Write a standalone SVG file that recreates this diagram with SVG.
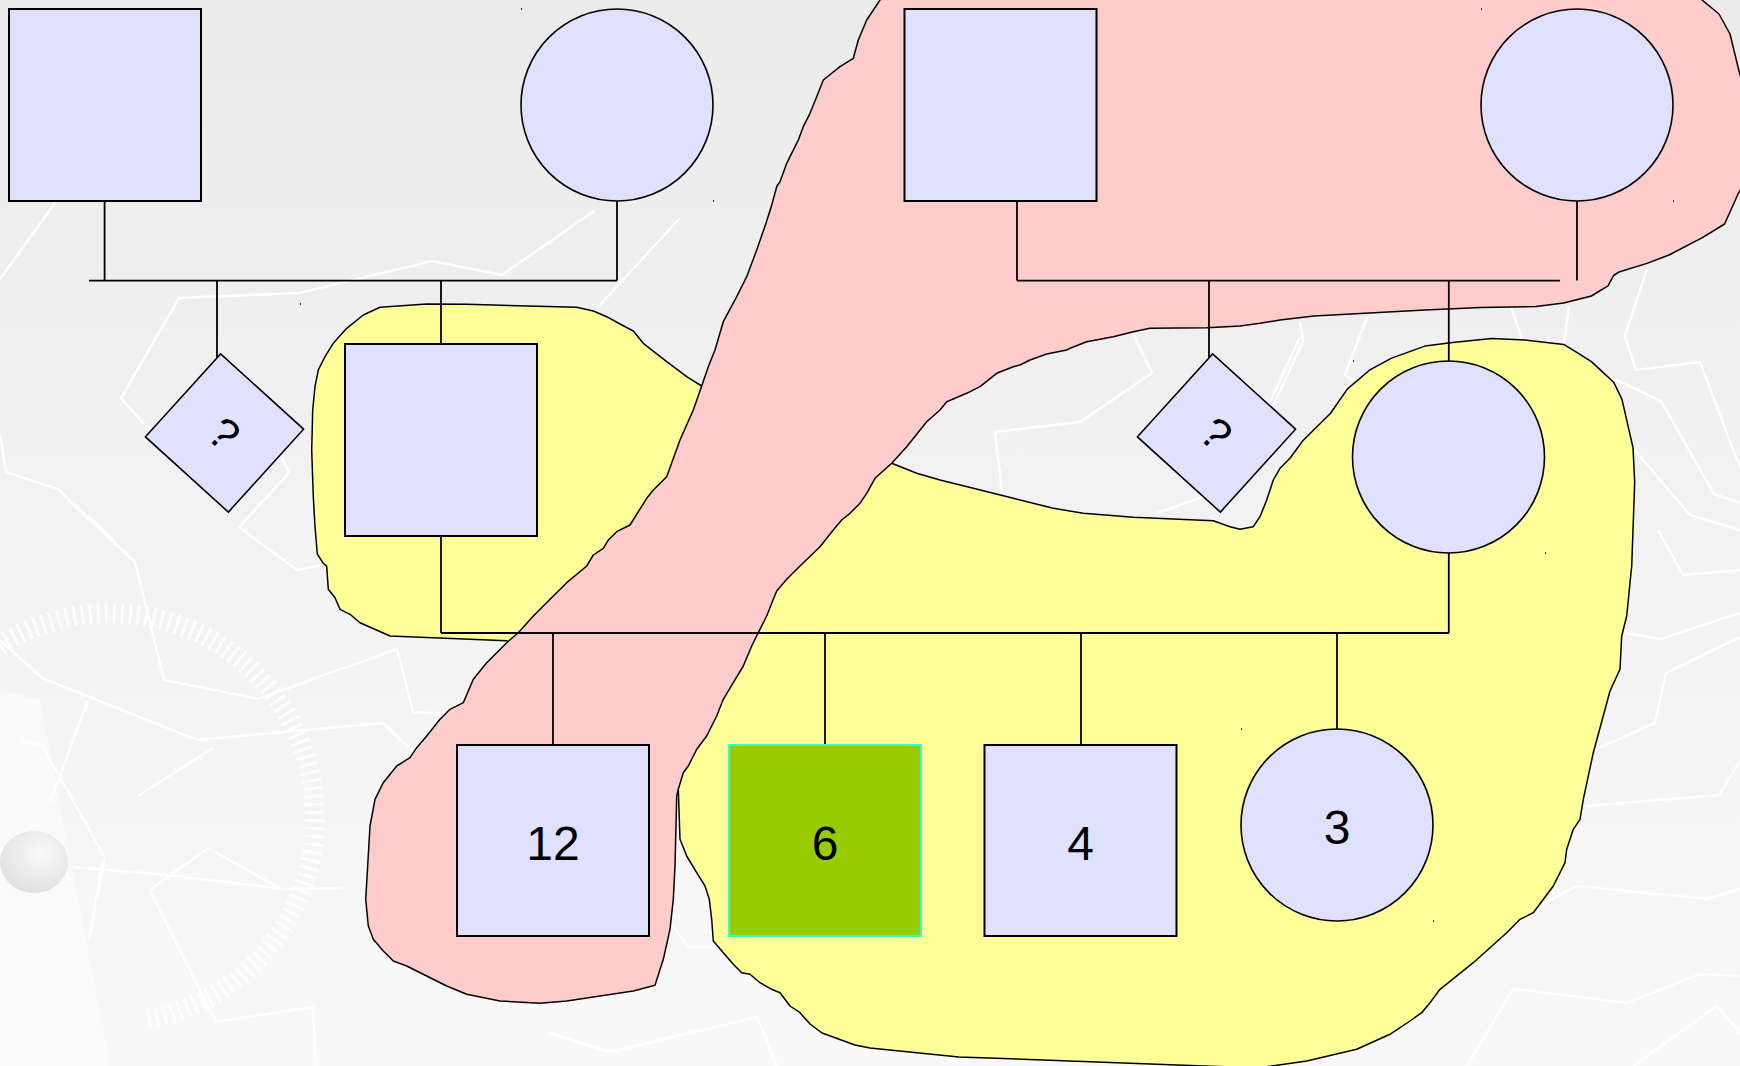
<svg xmlns="http://www.w3.org/2000/svg" width="1740" height="1066" viewBox="0 0 1740 1066">
<defs>
<linearGradient id="bgGrad" x1="0" y1="0" x2="0" y2="1">
<stop offset="0" stop-color="#ebebeb"/>
<stop offset="1" stop-color="#f9f9f9"/>
</linearGradient>
<radialGradient id="pinGrad" cx="0.6" cy="0.35" r="0.7">
<stop offset="0" stop-color="#fafafa"/>
<stop offset="0.5" stop-color="#ececec"/>
<stop offset="1" stop-color="#e0e0e0"/>
</radialGradient>
<style>
.node{fill:#e0e0ff;stroke:#000;stroke-width:2}
.circ{fill:#e0e0ff;stroke:#000;stroke-width:1.6}
.link{stroke:#000;stroke-width:1.8;fill:none}
.blob{stroke:#000;stroke-width:1.5;stroke-linejoin:round}
.lbl{font-family:"Liberation Sans",Arial,sans-serif;font-size:48px;text-anchor:middle;fill:#000}
.q{font-family:"Liberation Sans",Arial,sans-serif;font-size:44px;text-anchor:middle;fill:#000}
.bgl{stroke:#ffffff;stroke-width:2.5;fill:none;stroke-linejoin:miter}
.speck{fill:#333}
</style>
</defs>

<g id="background">
<rect x="0" y="0" width="1740" height="1066" fill="url(#bgGrad)"/>
<polygon points="0,690 40,700 110,1066 0,1066" fill="#fbfbfb" opacity="0.8"/>
<g class="bgl">
<polyline points="55,203 0,279"/>
<polyline points="594,211 502,275 432,261 299,293 179,298 121,398 153,434 180,470"/>
<polyline points="680,218 597,308"/>
<polyline points="0,434 6,472 58,489 114,540"/>
<polyline points="282,458 289,473 239,527 297,570 323,565"/>
<polyline points="68,500 135,562 164,680 258,699 397,649 413,712 467,715"/>
<polyline points="0,640 42,678 197,740 283,732 383,723 416,754"/>
<polyline points="138,796 213,748"/>
<polyline points="50,803 88,700"/>
<polyline points="20,741 42,745 105,858 97,900"/>
<polyline points="73,867 167,875 283,889 344,888"/>
<polyline points="150,890 208,848 283,890"/>
<polyline points="150,890 216,1022 313,1007 316,1066"/>
<polyline points="89,940 103,859"/>
<polyline points="549,1033 610,1052 757,1017 777,1066"/>
<polyline points="671,923 688,947 716,947"/>
<polyline points="1133,333 1152,373 1080,422 995,432 1002,493"/>
<polyline points="1157,513 1203,497"/>
<polyline points="1270,402 1300,337"/>
<polyline points="1300,322 1303,341 1270,413"/>
<polyline points="1367,317 1345,375 1353,381"/>
<polyline points="1511,306 1522,339"/>
<polyline points="1569,306 1564,344"/>
<polyline points="1647,269 1625,336 1636,370 1700,362 1740,468"/>
<polyline points="1614,379 1661,401 1714,494 1740,503"/>
<polyline points="1633,448 1690,515 1740,530"/>
<polyline points="1658,530 1683,575 1740,570"/>
<polyline points="1625,633 1661,639 1740,613"/>
<polyline points="1740,637 1666,673 1655,723 1594,750"/>
<polyline points="1586,806 1719,795 1740,761"/>
<polyline points="1533,909 1577,886 1707,899 1740,889"/>
<polyline points="1467,1066 1513,989 1627,1003 1700,974 1740,976"/>
<polyline points="1633,1066 1717,1006 1740,1033"/>
</g>
<path d="M -7.6,650.1 A 205 205 0 1 1 145.6,1019.9" fill="none" stroke="#ffffff" stroke-width="20" stroke-dasharray="3 5" opacity="0.85"/>
<ellipse cx="34" cy="862" rx="34" ry="31" fill="url(#pinGrad)"/>
</g>

<g id="highlights">
<path id="yellow-region" class="blob" fill="#ffff99" d="M 380,307.3 L 426.7,304 466.7,304.3 576.7,307.3 593.3,311 606.7,316.7 620,324 633.3,331 643.3,343.3 666.7,361.7 686.7,376.7 701.7,386 800,430 891.7,463.3 916.7,473.3 940,480 973.3,488.3 1013.3,498.3 1053.3,508.3 1083.3,513.3 1133.3,517.3 1213.3,520.7 1230,526.7 1240,529.3 1253.3,526.7 1260,516.7 1266.7,500 1273.3,480 1280,468.3 1290,458.3 1302.8,440.8 1330.6,413.2 1347.3,389.1 1369.4,370.2 1391.6,358.1 1424.9,346.1 1452.7,342.6 1491.5,338.5 1524.8,339.9 1563.7,344.4 1574.8,351.2 1591.4,361.6 1602.5,371.9 1613.6,382.2 1622,399.4 1627.5,423.6 1633,447.7 1634.7,482.1 1633,530 1631.7,566 1626.7,616 1621.7,636 1620,669.3 1610,691 1593.3,752.7 1583.3,799.3 1580,819.3 1573.3,829.3 1566.7,849.3 1565,862.7 1553.3,886 1533.3,912.7 1520,919.3 1506.7,932.7 1473.3,962.7 1440,989.3 1430,1002.7 1421.7,1012.7 1410,1021 1390,1034.3 1356.7,1049.3 1306.7,1061 1258,1068 958.8,1056.9 870,1048 855,1045 822,1033 810,1024 800,1012.7 790,1006 780,992.7 771.7,989.3 760,982.7 750,974.3 741.7,972.7 733.3,964.3 723.3,952.7 713.3,941 711.7,919.3 709.3,899.3 705,886 696.7,872.7 686.7,856 680,839.3 678.3,789.3 600,720 506.7,640.7 390,636 360,622.7 350,614.3 340,609.3 335,597.7 328.3,589.3 326.7,566 323.3,563.3 317.3,554 315,526.7 313.3,496.7 311.7,450 312.7,410 315,386.7 318.3,370 325,356.7 333.3,343.3 346.7,328.3 363.3,315 Z"/>
<path id="pink-region" class="blob" fill="#ffcccc" d="M 882,-4 L 1700,-4 1702,0 1719,14 1730,34 1738.5,69 1744,90 1744,185 1738.5,193 1724.6,224 1702.4,237.6 1669,255 1647,263.4 1619,272 1613.6,275.5 1608,285.8 1591.4,296 1563.7,303 1536,306.5 1480.4,307.5 1425,310 1314,316 1280,320 1260,323.3 1240,326 1206.7,327.7 1150,328.3 1133.3,331.7 1113.3,336.7 1086.7,341.7 1070,348.3 1066.7,350 1046.7,354 1030,360 1020,365 1013.3,366.7 996.7,373.3 980,386.7 966.7,393.3 946.7,401.7 940,410 926.7,421.7 906.7,446.7 891.7,463.3 875,478.3 866.7,493.3 860,503.3 850,513.3 841.7,520 833.3,530 820,546.7 800,566 786.7,579.3 776.7,591 773.3,599.3 766.7,616 758.3,632.7 751.7,646 743.3,666 733.3,682.7 723.3,699.3 716.7,716 706.7,736 696.7,749.3 693.3,756 688.3,766 683.3,772.7 678.3,789.3 676.7,796 676,826 675,866 673.3,899.3 670,929.3 663.3,959.3 655,985.3 633.3,991 600,996 566.7,1001 540,1003.3 500,1001 466.7,994.3 446.7,986 426.7,976 406.7,966 393.3,961 383.3,951 373.3,939.3 368.3,926 365.7,899.3 366.7,882.7 370,826 375,799.3 383.3,782.7 396.7,766 410,757.7 416.7,747.7 426.7,736 440,719.3 450,709.3 463.3,702.7 473.3,679.3 486.7,662.7 506.7,642.7 518.3,632.7 533.3,616 550,599.3 566.7,582.7 586.7,566 593.3,555 603.3,548.3 608.3,540 616.7,531.7 630,525 646.7,498.3 653.3,490 666.7,476.7 680,440 693.3,410 701.7,386 708.3,366.7 715,350 723.3,321.7 736.7,296.7 746.7,276.7 756.7,250 765.8,223.8 771.3,206.6 776.9,186 780,181.7 786.7,163.3 795,146.7 798.3,140 803.3,126.7 810,113.3 816.7,96.7 823.3,80 840,66.7 853.3,58.3 858.3,40 866.7,20 880,0 Z"/>
</g>

<g id="connectors" class="link">
<line x1="89" y1="280.6" x2="617" y2="280.6"/>
<line x1="104.6" y1="201" x2="104.6" y2="280.6"/>
<line x1="617" y1="201" x2="617" y2="280.6"/>
<line x1="217" y1="280.6" x2="217" y2="358"/>
<line x1="441" y1="280.6" x2="441" y2="344"/>
<line x1="1017" y1="201" x2="1017" y2="280.6"/>
<line x1="1017" y1="280.6" x2="1560" y2="280.6"/>
<line x1="1577" y1="201" x2="1577" y2="280.6"/>
<line x1="1209" y1="280.6" x2="1209" y2="358"/>
<line x1="1448.8" y1="280.6" x2="1448.8" y2="361"/>
<line x1="441" y1="536" x2="441" y2="633"/>
<line x1="1448.8" y1="553" x2="1448.8" y2="633"/>
<line x1="441" y1="633" x2="1449" y2="633"/>
<line x1="553" y1="633" x2="553" y2="745"/>
<line x1="825" y1="633" x2="825" y2="745"/>
<line x1="1081" y1="633" x2="1081" y2="745"/>
<line x1="1337" y1="633" x2="1337" y2="729"/>
</g>

<g id="gp1-male"><rect class="node" x="9" y="9" width="192" height="192"/></g>
<g id="gp1-female"><circle class="circ" cx="617" cy="105" r="96"/></g>
<g id="gp2-male"><rect class="node" x="904.5" y="9" width="192" height="192"/></g>
<g id="gp2-female"><circle class="circ" cx="1577" cy="105" r="96"/></g>
<g id="unknown1" transform="translate(224.5,433) rotate(42.2)">
<rect class="circ" x="-56" y="-56" width="112" height="112"/>
<text class="q" x="0" y="16">?</text>
</g>
<g id="father"><rect class="node" x="345" y="344" width="192" height="192"/></g>
<g id="unknown2" transform="translate(1216.5,433) rotate(42.2)">
<rect class="circ" x="-56" y="-56" width="112" height="112"/>
<text class="q" x="0" y="16">?</text>
</g>
<g id="mother"><circle class="circ" cx="1448.5" cy="457" r="96"/></g>
<g id="child12"><rect class="node" x="457" y="745" width="192" height="191"/><text class="lbl" x="553" y="860">12</text></g>
<g id="child6"><rect x="729" y="745" width="192" height="191" fill="#99cc00" stroke="#33ffcc" stroke-width="2"/><text class="lbl" x="825" y="860">6</text></g>
<g id="child4"><rect class="node" x="984.5" y="745" width="192" height="191"/><text class="lbl" x="1080.5" y="860">4</text></g>
<g id="child3"><circle class="circ" cx="1337" cy="825" r="96"/><text class="lbl" x="1337" y="844">3</text></g>

<g id="specks">
<rect class="speck" x="521" y="8" width="1" height="2"/>
<rect class="speck" x="713" y="200" width="1" height="2"/>
<rect class="speck" x="1481" y="8" width="1" height="2"/>
<rect class="speck" x="1673" y="200" width="1" height="2"/>
<rect class="speck" x="1353" y="360" width="1" height="2"/>
<rect class="speck" x="1545" y="552" width="1" height="2"/>
<rect class="speck" x="1241" y="728" width="1" height="2"/>
<rect class="speck" x="1433" y="920" width="1" height="2"/>
<rect class="speck" x="300" y="303" width="1" height="2"/>
</g>
</svg>
